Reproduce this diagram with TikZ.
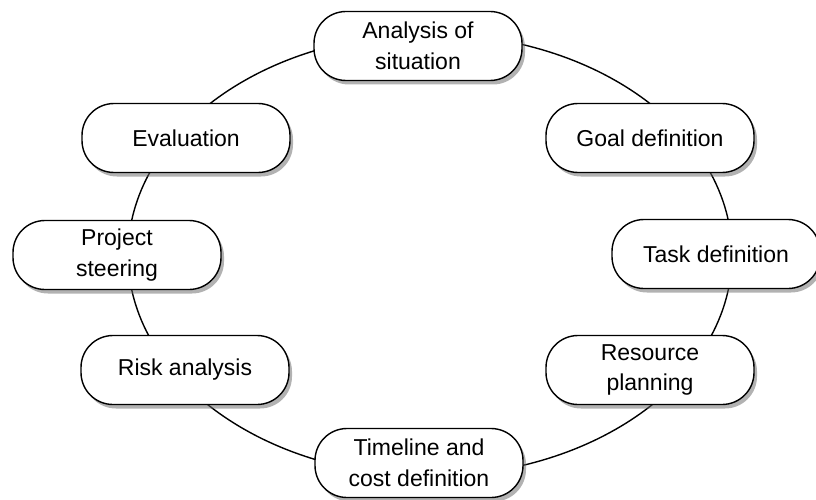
\documentclass[tikz,border=0pt]{standalone}
\usepackage{fontspec}
\setmainfont{Liberation Sans}
\usetikzlibrary{shadows}
\begin{document}
\begin{tikzpicture}[x=1pt,y=-1pt,
  stage/.style={draw=black, line width=1.4pt, fill=white, rounded corners=32pt,
    minimum width=208pt, minimum height=69pt, align=center, inner sep=0pt,
    font=\fontsize{23}{30.5}\selectfont,
    drop shadow={shadow xshift=3pt, shadow yshift=-4pt, opacity=0.5, fill=black!60}},
  ring/.style={draw=black, line width=1.4pt}]
\useasboundingbox (0,0) rectangle (816,500);
\draw[ring] (430,255) ellipse [x radius=302, y radius=221];
\node[stage] (ana) at (418,46) {Analysis of\\situation};
\node[stage] (goal) at (650,138) {Goal definition};
\node[stage] (task) at (716,254) {Task definition};
\node[stage] (res) at (650,370) {Resource\\planning};
\node[stage] (time) at (419,463) {Timeline and\\cost definition};
\node[stage] (risk) at (185,370) {Risk analysis};
\node[stage] (steer) at (117,255) {Project\\steering};
\node[stage] (eval) at (186,138) {Evaluation};
\end{tikzpicture}
\end{document}
